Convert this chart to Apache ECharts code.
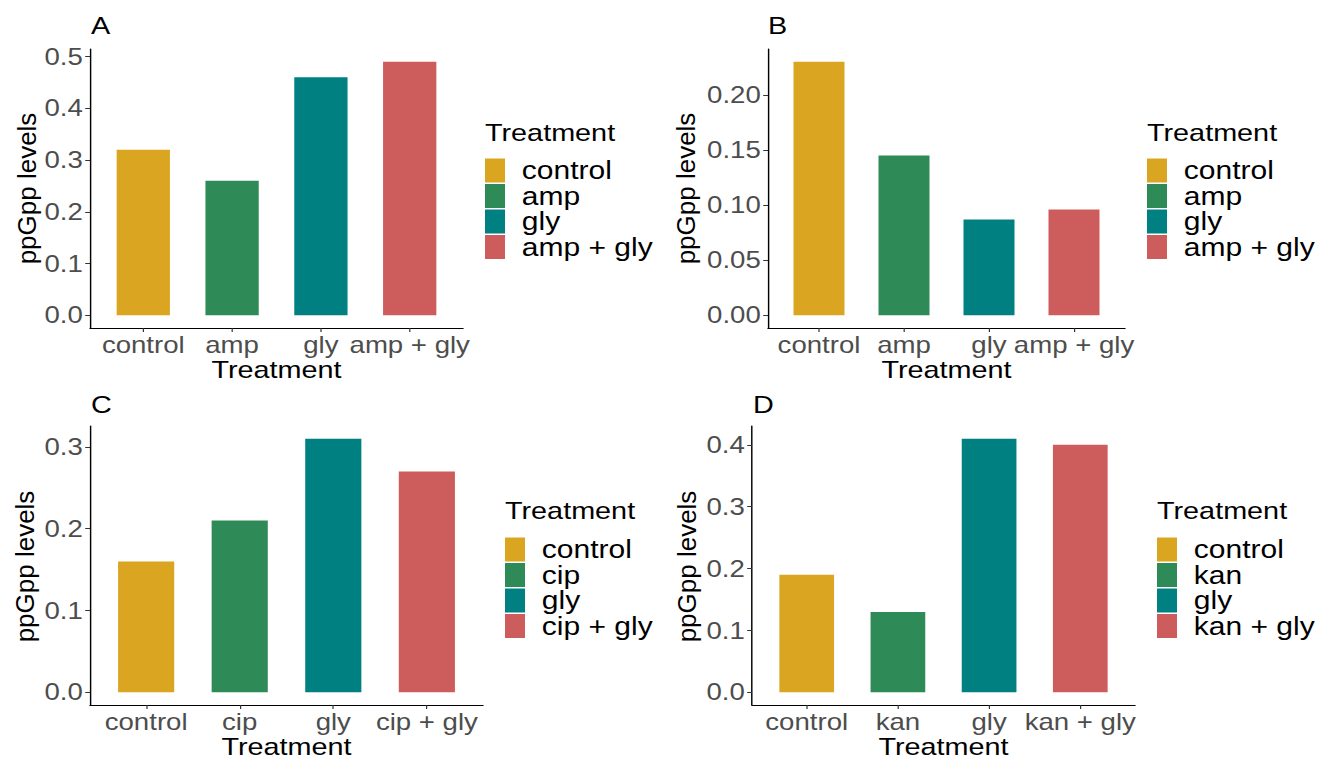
<!DOCTYPE html>
<html>
<head>
<meta charset="utf-8">
<script src="https://cdn.jsdelivr.net/npm/echarts@6/dist/echarts.min.js"></script>
<style>
html,body{margin:0;padding:0;background:#fff;overflow:hidden;}
#wrap{width:1317px;height:760px;overflow:hidden;position:relative;}
#chart{position:absolute;left:0;top:0;height:760px;transform-origin:0 0;}
</style>
</head>
<body>
<div id="wrap"><div id="chart"></div></div>
<script>
// ---- data ----
const catsA = ['control', 'amp', 'gly', 'amp + gly'];
const valsA = [0.32, 0.26, 0.46, 0.49];
const ticksA = [0, 0.1, 0.2, 0.3, 0.4, 0.5];

const catsB = ['control', 'amp', 'gly', 'amp + gly'];
const valsB = [0.23, 0.145, 0.087, 0.096];
const ticksB = [0, 0.05, 0.10, 0.15, 0.20];

const catsC = ['control', 'cip', 'gly', 'cip + gly'];
const valsC = [0.16, 0.21, 0.31, 0.27];
const ticksC = [0, 0.1, 0.2, 0.3];

const catsD = ['control', 'kan', 'gly', 'kan + gly'];
const valsD = [0.19, 0.13, 0.41, 0.40];
const ticksD = [0, 0.1, 0.2, 0.3, 0.4];

const tags = ['A', 'B', 'C', 'D'];
const colors = ['#DAA520', '#2E8B57', '#008080', '#CD5C5C'];

// ---- layout (reference pixel coords; horizontal values divided by S) ----
const S = 1.2;
const FONT = '"Liberation Sans", Arial, Helvetica, sans-serif';
const el = document.getElementById('chart');
el.style.width = (1317 / S) + 'px';
el.style.transform = 'scaleX(' + S + ')';

const panels = [
  {cats: catsA, vals: valsA, ticks: ticksA, dec: 1, x0: 90, x1: 463, y0: 49, y1: 328, yTitleX: 27, legX: 485, legTitleTop: 121, legTop: 158, tagX: 91, tagTop: 14},
  {cats: catsB, vals: valsB, ticks: ticksB, dec: 2, x0: 768, x1: 1125, y0: 49, y1: 328, yTitleX: 686, legX: 1147, legTitleTop: 121, legTop: 158, tagX: 768, tagTop: 14},
  {cats: catsC, vals: valsC, ticks: ticksC, dec: 1, x0: 90, x1: 483, y0: 426, y1: 707, yTitleX: 25, legX: 505, legTitleTop: 499, legTop: 537, tagX: 91, tagTop: 393},
  {cats: catsD, vals: valsD, ticks: ticksD, dec: 1, x0: 752, x1: 1135, y0: 426, y1: 707, yTitleX: 687, legX: 1157, legTitleTop: 499, legTop: 537, tagX: 753, tagTop: 393}
];

const option = {
  animation: false,
  textStyle: {fontFamily: FONT},
  title: [],
  legend: [],
  grid: [],
  xAxis: [],
  yAxis: [],
  graphic: [],
  series: []
};

panels.forEach((p, k) => {
  const gw = (p.x1 - p.x0) / S;
  const n = p.cats.length;
  const idx = p.cats.map((_, i) => i);
  const vmax = Math.max(...p.vals);
  option.grid.push({left: p.x0 / S, top: p.y0, width: gw, height: p.y1 - p.y0});
  option.xAxis.push({
    type: 'value', gridIndex: k, min: -0.6, max: n - 1 + 0.6,
    axisLine: {show: true, onZero: false, lineStyle: {color: '#000', width: 1.2}},
    axisTick: {show: true, customValues: idx, length: 4, lineStyle: {color: '#333', width: 1}},
    axisLabel: {customValues: idx, formatter: v => p.cats[Math.round(v)], fontSize: 23, color: '#4D4D4D', margin: 5, fontFamily: FONT},
    splitLine: {show: false},
    name: 'Treatment', nameLocation: 'middle', nameGap: 30,
    nameTextStyle: {fontSize: 24, color: '#000', fontFamily: FONT}
  });
  option.yAxis.push({
    type: 'value', gridIndex: k, min: -0.05 * vmax, max: 1.05 * vmax,
    axisLine: {show: true, onZero: false, lineStyle: {color: '#000', width: 1.2}},
    axisTick: {show: true, customValues: p.ticks, length: 4, lineStyle: {color: '#333', width: 1}},
    axisLabel: {customValues: p.ticks, formatter: v => Number(v).toFixed(p.dec), fontSize: 23, color: '#4D4D4D', margin: 6, fontFamily: FONT},
    splitLine: {show: false}
  });
  // rotated y-axis title, un-stretched so it keeps normal proportions
  option.graphic.push({
    type: 'text', x: p.yTitleX / S, y: (p.y0 + p.y1) / 2,
    rotation: Math.PI / 2, scaleY: 1 / S, silent: true,
    style: {text: 'ppGpp levels', fontSize: 26, fill: '#000', align: 'center', verticalAlign: 'middle', fontFamily: FONT}
  });
  p.cats.forEach((c, i) => {
    option.series.push({
      type: 'bar', name: c, xAxisIndex: k, yAxisIndex: k,
      data: [[i, p.vals[i]]],
      barWidth: 0.6 * gw / (n - 1 + 1.2), barGap: '-100%',
      itemStyle: {color: colors[i]},
      emphasis: {disabled: true}, silent: true
    });
  });
  option.legend.push({
    orient: 'vertical', left: p.legX / S, top: p.legTop, padding: 0,
    itemWidth: 20 / S, itemHeight: 24, itemGap: 0.5, icon: 'rect',
    selectedMode: false, data: p.cats,
    textStyle: {fontSize: 25, color: '#000', lineHeight: 22, padding: [0, 0, 0, 9], fontFamily: FONT}
  });
  option.title.push({
    text: tags[k], left: p.tagX / S, top: p.tagTop, padding: 0,
    textStyle: {fontSize: 24, fontWeight: 'normal', color: '#000', fontFamily: FONT}
  });
  option.title.push({
    text: 'Treatment', left: p.legX / S, top: p.legTitleTop, padding: 0,
    textStyle: {fontSize: 24, fontWeight: 'normal', color: '#000', fontFamily: FONT}
  });
});

const chart = echarts.init(el, null, {renderer: 'svg'});
chart.setOption(option);
</script>
</body>
</html>
